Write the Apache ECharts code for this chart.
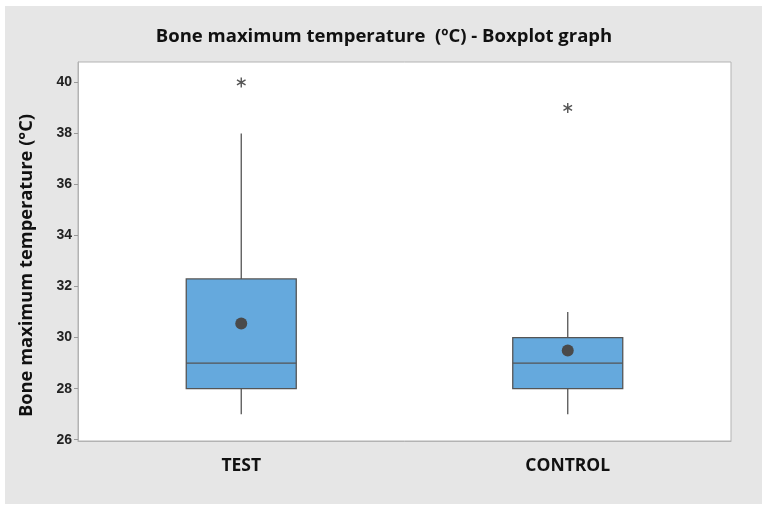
<html>
<head>
    <meta charset="utf-8">
    <script src="https://cdn.jsdelivr.net/npm/echarts@6/dist/echarts.min.js"></script>
</head>
<body style="margin:0;background:#fff;">
<div id="main" style="width:768px;height:510px;"></div>
<script>
    // groups and their five-number summaries (min, Q1, median, Q3, max)
    var groups = ['TEST', 'CONTROL'];
    var boxStats = [
        [27, 28, 29, 32.3, 38],
        [27, 28, 29, 30, 31]
    ];
    var means = [30.55, 29.5];
    var outliers = [[0, 40], [1, 39]];
    var yTicks = [26, 28, 30, 32, 34, 36, 38, 40];

    var chart = echarts.init(document.getElementById('main'));

    var boxData = boxStats.map(function (s, i) {
        return [i].concat(s);
    });
    var meanData = means.map(function (m, i) {
        return [i, m];
    });

    var renderBox = function (params, api) {
        var x = api.value(0);
        var lo = api.coord([x, api.value(1)]);
        var q1 = api.coord([x, api.value(2)]);
        var med = api.coord([x, api.value(3)]);
        var q3 = api.coord([x, api.value(4)]);
        var hi = api.coord([x, api.value(5)]);
        var half = 55;
        var line = {stroke: '#555', lineWidth: 1.3};
        return {
            type: 'group',
            children: [
                {type: 'line', shape: {x1: lo[0], y1: lo[1], x2: q1[0], y2: q1[1]}, style: line},
                {type: 'line', shape: {x1: q3[0], y1: q3[1], x2: hi[0], y2: hi[1]}, style: line},
                {
                    type: 'rect',
                    shape: {x: q3[0] - half, y: q3[1], width: half * 2, height: q1[1] - q3[1]},
                    style: {fill: '#65a9dd', stroke: '#555', lineWidth: 1.3}
                },
                {type: 'line', shape: {x1: med[0] - half, y1: med[1], x2: med[0] + half, y2: med[1]}, style: line}
            ]
        };
    };

    var option = {
        backgroundColor: '#fff',
        graphic: [{
            type: 'rect',
            z: -10,
            shape: {x: 5, y: 6, width: 757, height: 498},
            style: {fill: '#e6e6e6'}
        }],
        title: {
            text: 'Bone maximum temperature  (ºC) - Boxplot graph',
            left: 'center',
            top: 22,
            textStyle: {
                fontFamily: 'Open Sans',
                fontWeight: 'bold',
                fontSize: 18.5,
                color: '#111'
            }
        },
        grid: {
            left: 78,
            right: 37,
            top: 62,
            bottom: 69,
            show: true,
            backgroundColor: '#fff',
            borderColor: '#b3b3b3',
            borderWidth: 1
        },
        xAxis: {
            type: 'category',
            data: groups,
            axisLine: {lineStyle: {color: '#b3b3b3'}},
            axisTick: {alignWithLabel: true, length: 3, lineStyle: {color: '#b3b3b3'}},
            axisLabel: {
                margin: 16,
                fontFamily: 'Open Sans',
                fontWeight: 'bold',
                fontSize: 17.5,
                color: '#111'
            },
            splitLine: {show: false}
        },
        yAxis: {
            type: 'value',
            min: 25.95,
            max: 40.8,
            name: 'Bone maximum temperature (°C)',
            nameLocation: 'middle',
            nameGap: 42,
            nameTextStyle: {
                fontFamily: 'Open Sans',
                fontWeight: 'bold',
                fontSize: 18.3,
                color: '#111',
                padding: [0, 28, 0, 0]
            },
            axisLine: {show: true, lineStyle: {color: '#b3b3b3'}},
            axisTick: {show: true, length: 4, customValues: yTicks, lineStyle: {color: '#999'}},
            axisLabel: {
                customValues: yTicks,
                margin: 6,
                fontFamily: 'Liberation Sans',
                fontWeight: 'bold',
                fontSize: 14,
                color: '#222'
            },
            splitLine: {show: false}
        },
        series: [
            {
                type: 'custom',
                renderItem: renderBox,
                data: boxData,
                encode: {x: 0, y: [1, 2, 3, 4, 5]},
                z: 2
            },
            {
                type: 'scatter',
                data: meanData,
                symbol: 'circle',
                symbolSize: 12,
                itemStyle: {color: '#4a4a4a', opacity: 1},
                z: 3
            },
            {
                type: 'scatter',
                data: outliers,
                symbol: 'path://M5,0 L5,10 M0.7,2.5 L9.3,7.5 M0.7,7.5 L9.3,2.5',
                symbolSize: 10,
                symbolKeepAspect: true,
                itemStyle: {color: 'none', borderColor: '#555', borderWidth: 1.4, opacity: 1},
                z: 3
            }
        ]
    };

    chart.setOption(option);
</script>
</body>
</html>
